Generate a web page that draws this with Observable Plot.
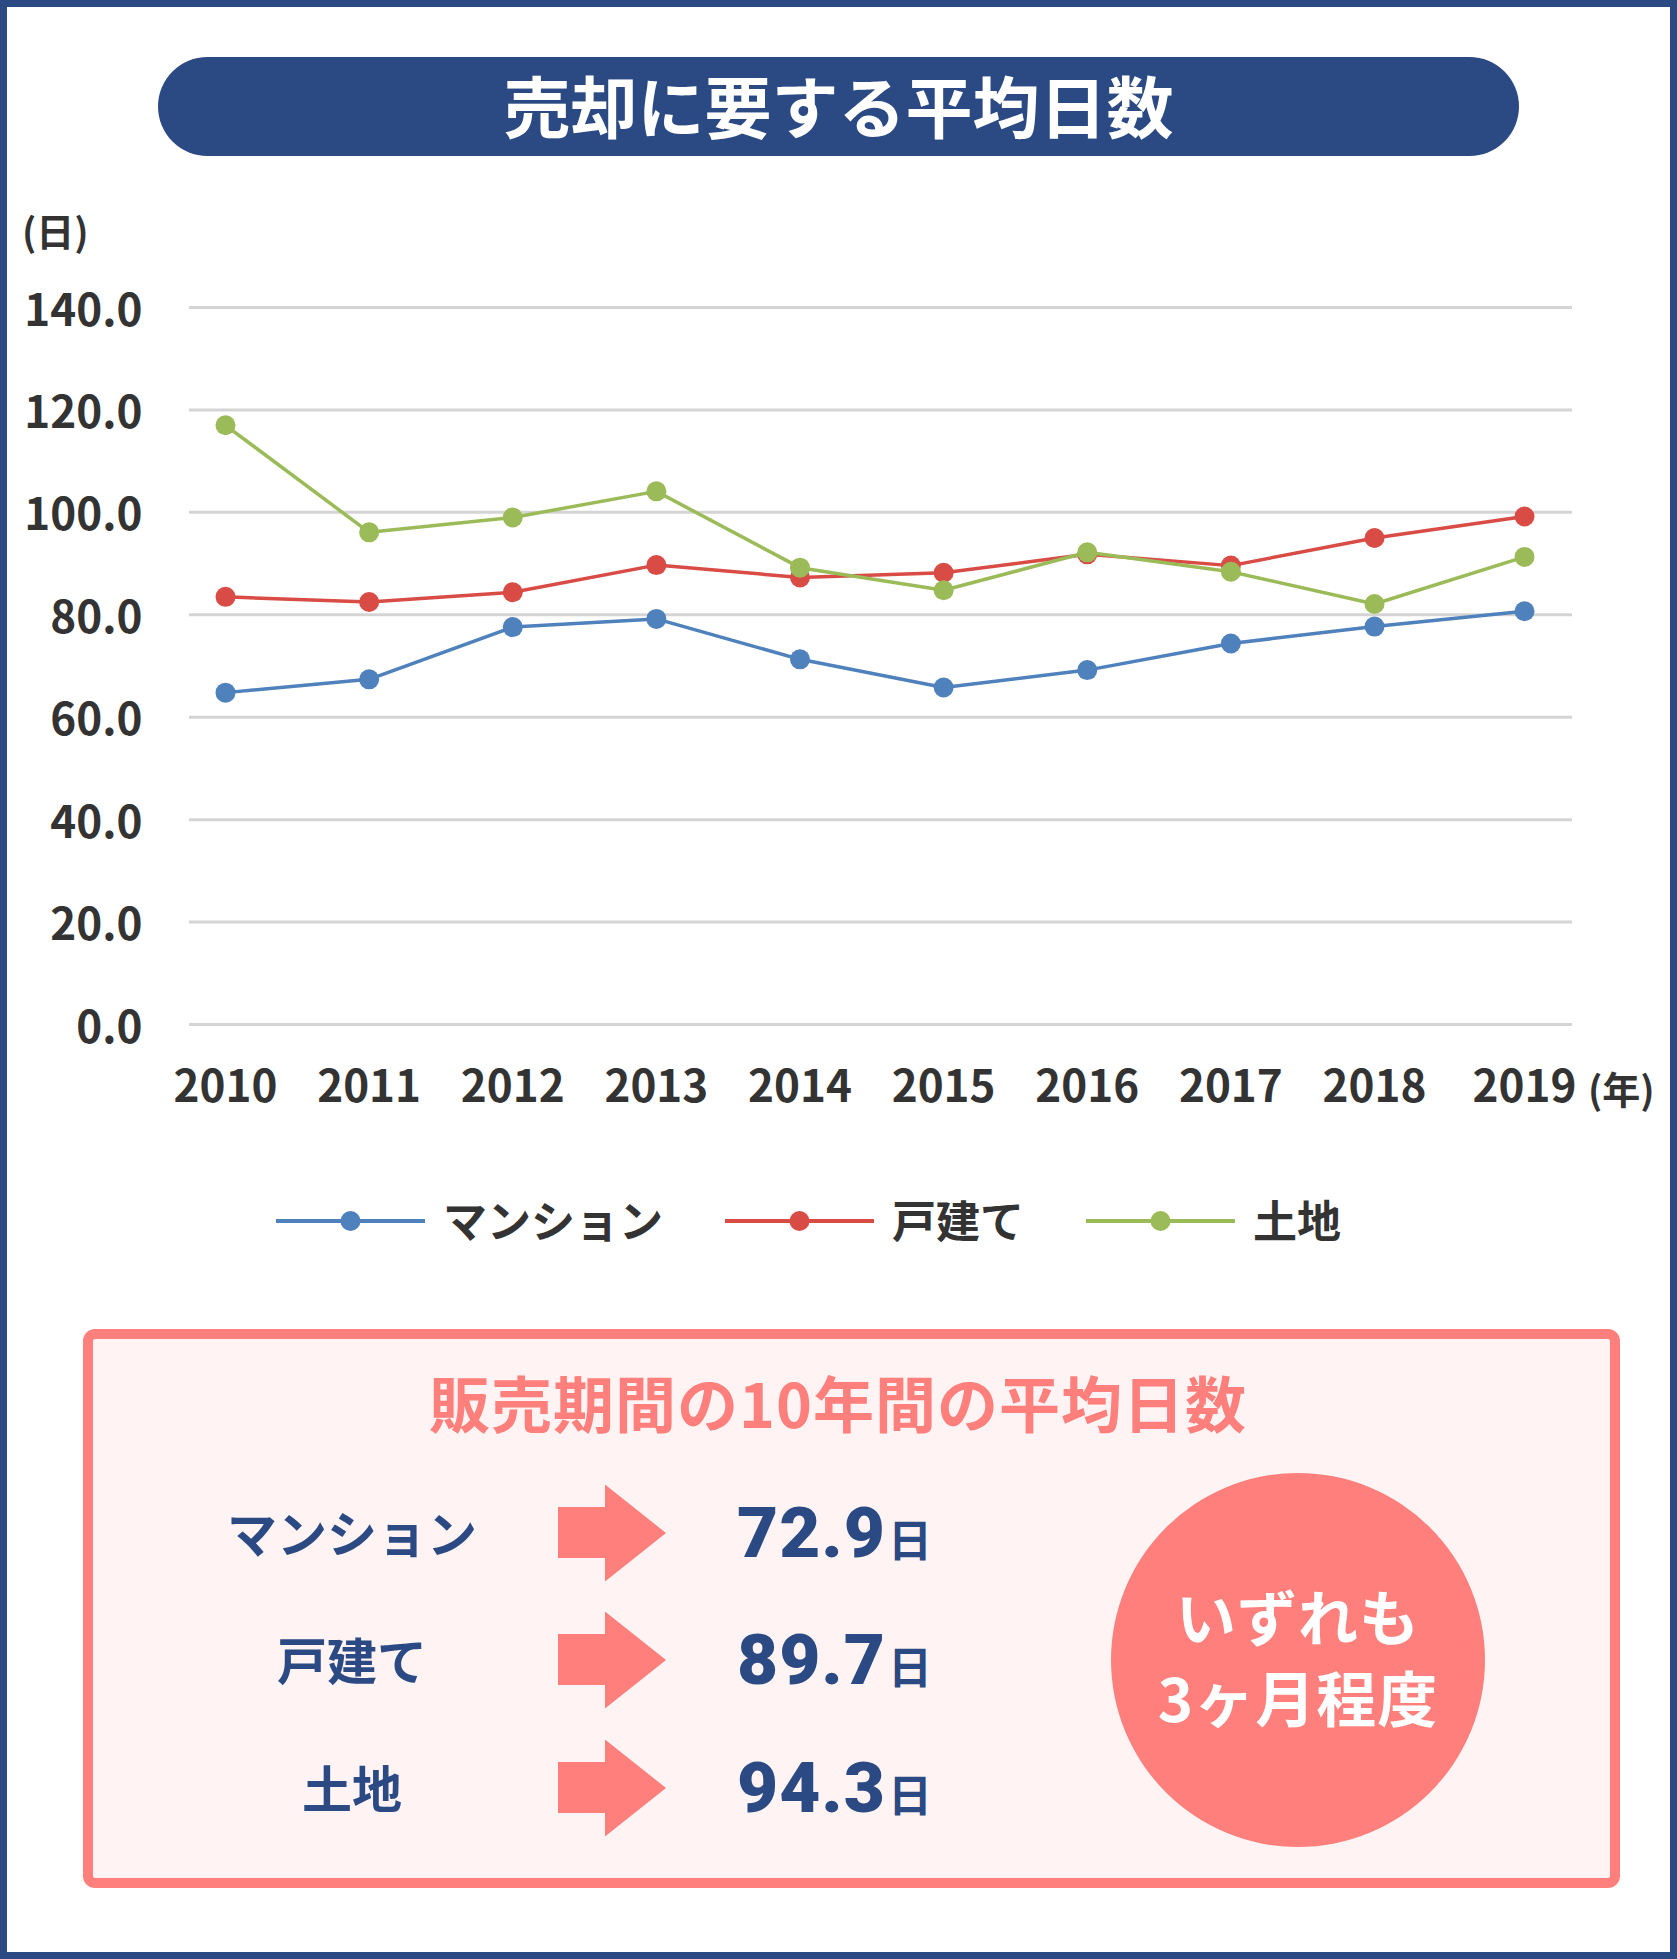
<!DOCTYPE html>
<html lang="ja">
<head>
<meta charset="utf-8">
<script src="https://cdn.jsdelivr.net/npm/d3@7"></script>
<script src="https://cdn.jsdelivr.net/npm/@observablehq/plot@0.6"></script>
<style>
  html, body { margin: 0; padding: 0; background: #ffffff; }
  body { width: 1677px; height: 1959px; position: relative; overflow: hidden;
         font-family: "Noto Sans CJK JP", "Noto Sans", sans-serif; font-weight: 700; }
  .abs { position: absolute; }
  #frame { left: 0; top: 0; width: 1677px; height: 1959px; box-sizing: border-box;
           border: 7px solid #2b4a84; pointer-events: none; }
  #title { left: 158px; top: 57px; width: 1361px; height: 99px; background: #2b4a84;
           border-radius: 50px; color: #fff; font-size: 67px; display: flex;
           align-items: center; justify-content: center; line-height: 1; }
  #title span { position: relative; top: -3px; }
  #yunit { left: 22px; top: 206px; font-size: 38px; color: #333; line-height: 48px; }
  #xunit { left: 1588px; top: 1064px; font-size: 38px; color: #333; line-height: 48px; }
  #chart { left: 0; top: 280px; }
  #legend { left: 276px; top: 1196px; height: 50px; display: flex; align-items: center;
            font-size: 44px; color: #333; }
  .litem { display: flex; align-items: center; margin-right: 62px; }
  .litem svg { margin-right: 18px; }
  .litem span { position: relative; top: -2px; line-height: 1; }
  #box { left: 83px; top: 1329px; width: 1537px; height: 559px; box-sizing: border-box;
         border: 10px solid #fe7f7b; border-radius: 12px; background: #fff4f3; }
  #boxtitle { left: 83px; width: 1510px; top: 1370px; text-align: center; font-size: 61px;
              color: #fe7f7b; line-height: 64px; letter-spacing: 1px; }
  .rlabel { width: 300px; left: 202px; text-align: center; font-size: 50px; color: #2b4a84;
            line-height: 60px; }
  .arrow { left: 558px; width: 108px; height: 97px; background: #fe7f7b;
           clip-path: polygon(0 22.5px, 47px 22.5px, 47px 0, 108px 48.5px, 47px 97px, 47px 73.5px, 0 73.5px); }
  .rval { left: 737px; color: #2b4a84; line-height: 80px; height: 80px; white-space: nowrap; }
  .rval .num { font-family: Roboto, "Noto Sans", sans-serif; font-weight: 900; font-size: 71px;
               letter-spacing: 1px; }
  .rval .unit { font-size: 44px; margin-left: 2px; }
  #circle { left: 1111px; top: 1473px; width: 374px; height: 374px; border-radius: 50%;
            background: #fe7f7b; }
  .ctext { left: 1111px; width: 374px; text-align: center; color: #fff; font-size: 60px;
           line-height: 64px; letter-spacing: 1px; }
</style>
</head>
<body>
<div id="title" class="abs"><span>売却に要する平均日数</span></div>
<div id="yunit" class="abs">(日)</div>
<div id="xunit" class="abs">(年)</div>
<div id="chart" class="abs"></div>
<div id="legend" class="abs"></div>
<div id="box" class="abs"></div>
<div id="boxtitle" class="abs">販売期間の10年間の平均日数</div>
<div id="rows"></div>
<div id="circle" class="abs"></div>
<div class="ctext abs" style="top:1583px;">いずれも</div>
<div class="ctext abs" style="top:1664px;">3ヶ月程度</div>
<div id="frame" class="abs"></div>
<script>
// ---- data ----
const years = [2010, 2011, 2012, 2013, 2014, 2015, 2016, 2017, 2018, 2019];
const mansion = [64.8, 67.4, 77.6, 79.2, 71.3, 65.8, 69.2, 74.4, 77.7, 80.7];
const kodate  = [83.5, 82.5, 84.4, 89.7, 87.3, 88.2, 91.8, 89.6, 95.0, 99.2];
const tochi   = [117.0, 96.1, 99.0, 104.1, 89.2, 84.8, 92.2, 88.4, 82.1, 91.3];
const seriesNames = ["マンション", "戸建て", "土地"];
const seriesColors = ["#4f81bd", "#d94b45", "#9bbb59"];
const yTicks = [0, 20, 40, 60, 80, 100, 120, 140];
const avgLabels = ["マンション", "戸建て", "土地"];
const avgValues = ["72.9", "89.7", "94.3"];

const seriesValues = [mansion, kodate, tochi];
const data = [];
seriesNames.forEach((name, s) => {
  years.forEach((yr, i) => data.push({ year: yr, series: name, value: seriesValues[s][i] }));
});

const seriesMarks = [];
seriesNames.forEach((name) => {
  const sub = data.filter(d => d.series === name);
  seriesMarks.push(Plot.line(sub, { x: "year", y: "value", stroke: "series", strokeWidth: 3.5 }));
  seriesMarks.push(Plot.dot(sub, { x: "year", y: "value", fill: "series", r: 10 }));
});

const hasAxisMarks = typeof Plot.axisX === "function" && typeof Plot.axisY === "function";
const axisMarks = hasAxisMarks ? [
  Plot.axisY({ ticks: yTicks, tickFormat: d => d.toFixed(1), tickSize: 0, tickPadding: 47, dy: 4, label: null }),
  Plot.axisX({ ticks: years, tickFormat: d => String(d), tickSize: 0, tickPadding: 46, label: null })
] : [];

const chart = Plot.plot({
  width: 1677,
  height: 850,
  marginLeft: 189,
  marginRight: 105,
  marginTop: 27,
  marginBottom: 106,
  style: { fontFamily: "'Noto Sans CJK JP', sans-serif", fontSize: "44px", fontWeight: 700,
           color: "#333333", background: "transparent", overflow: "visible" },
  x: { type: "linear", domain: [2010, 2018, 2019], range: [225, 1374, 1524],
       ticks: years, tickFormat: d => String(d), label: null, tickSize: 0, tickPadding: 46 },
  y: { domain: [0, 140], ticks: yTicks, tickFormat: d => d.toFixed(1), label: null,
       tickSize: 0, tickPadding: 47 },
  color: { domain: seriesNames, range: seriesColors },
  marks: [
    Plot.ruleY(yTicks, { stroke: "#d4d4d4", strokeWidth: 3 }),
    ...axisMarks,
    ...seriesMarks
  ]
});
document.getElementById("chart").appendChild(chart);

// ---- legend ----
const legend = document.getElementById("legend");
seriesNames.forEach((name, i) => {
  const item = document.createElement("div");
  item.className = "litem";
  item.innerHTML = `<svg width="149" height="24"><line x1="0" y1="12" x2="149" y2="12" stroke="${seriesColors[i]}" stroke-width="4"/><circle cx="74.5" cy="12" r="10" fill="${seriesColors[i]}"/></svg><span>${name}</span>`;
  legend.appendChild(item);
});

// ---- average rows ----
const rows = document.getElementById("rows");
const rowCenters = [1533, 1660, 1788];
avgLabels.forEach((lab, i) => {
  const c = rowCenters[i];
  const l = document.createElement("div");
  l.className = "rlabel abs"; l.style.top = (c - 32) + "px"; l.textContent = lab;
  rows.appendChild(l);
  const a = document.createElement("div");
  a.className = "arrow abs"; a.style.top = (c - 48.5) + "px";
  rows.appendChild(a);
  const v = document.createElement("div");
  v.className = "rval abs"; v.style.top = (c - 40) + "px";
  v.innerHTML = `<span class="num">${avgValues[i]}</span><span class="unit">日</span>`;
  rows.appendChild(v);
});
</script>
</body>
</html>
